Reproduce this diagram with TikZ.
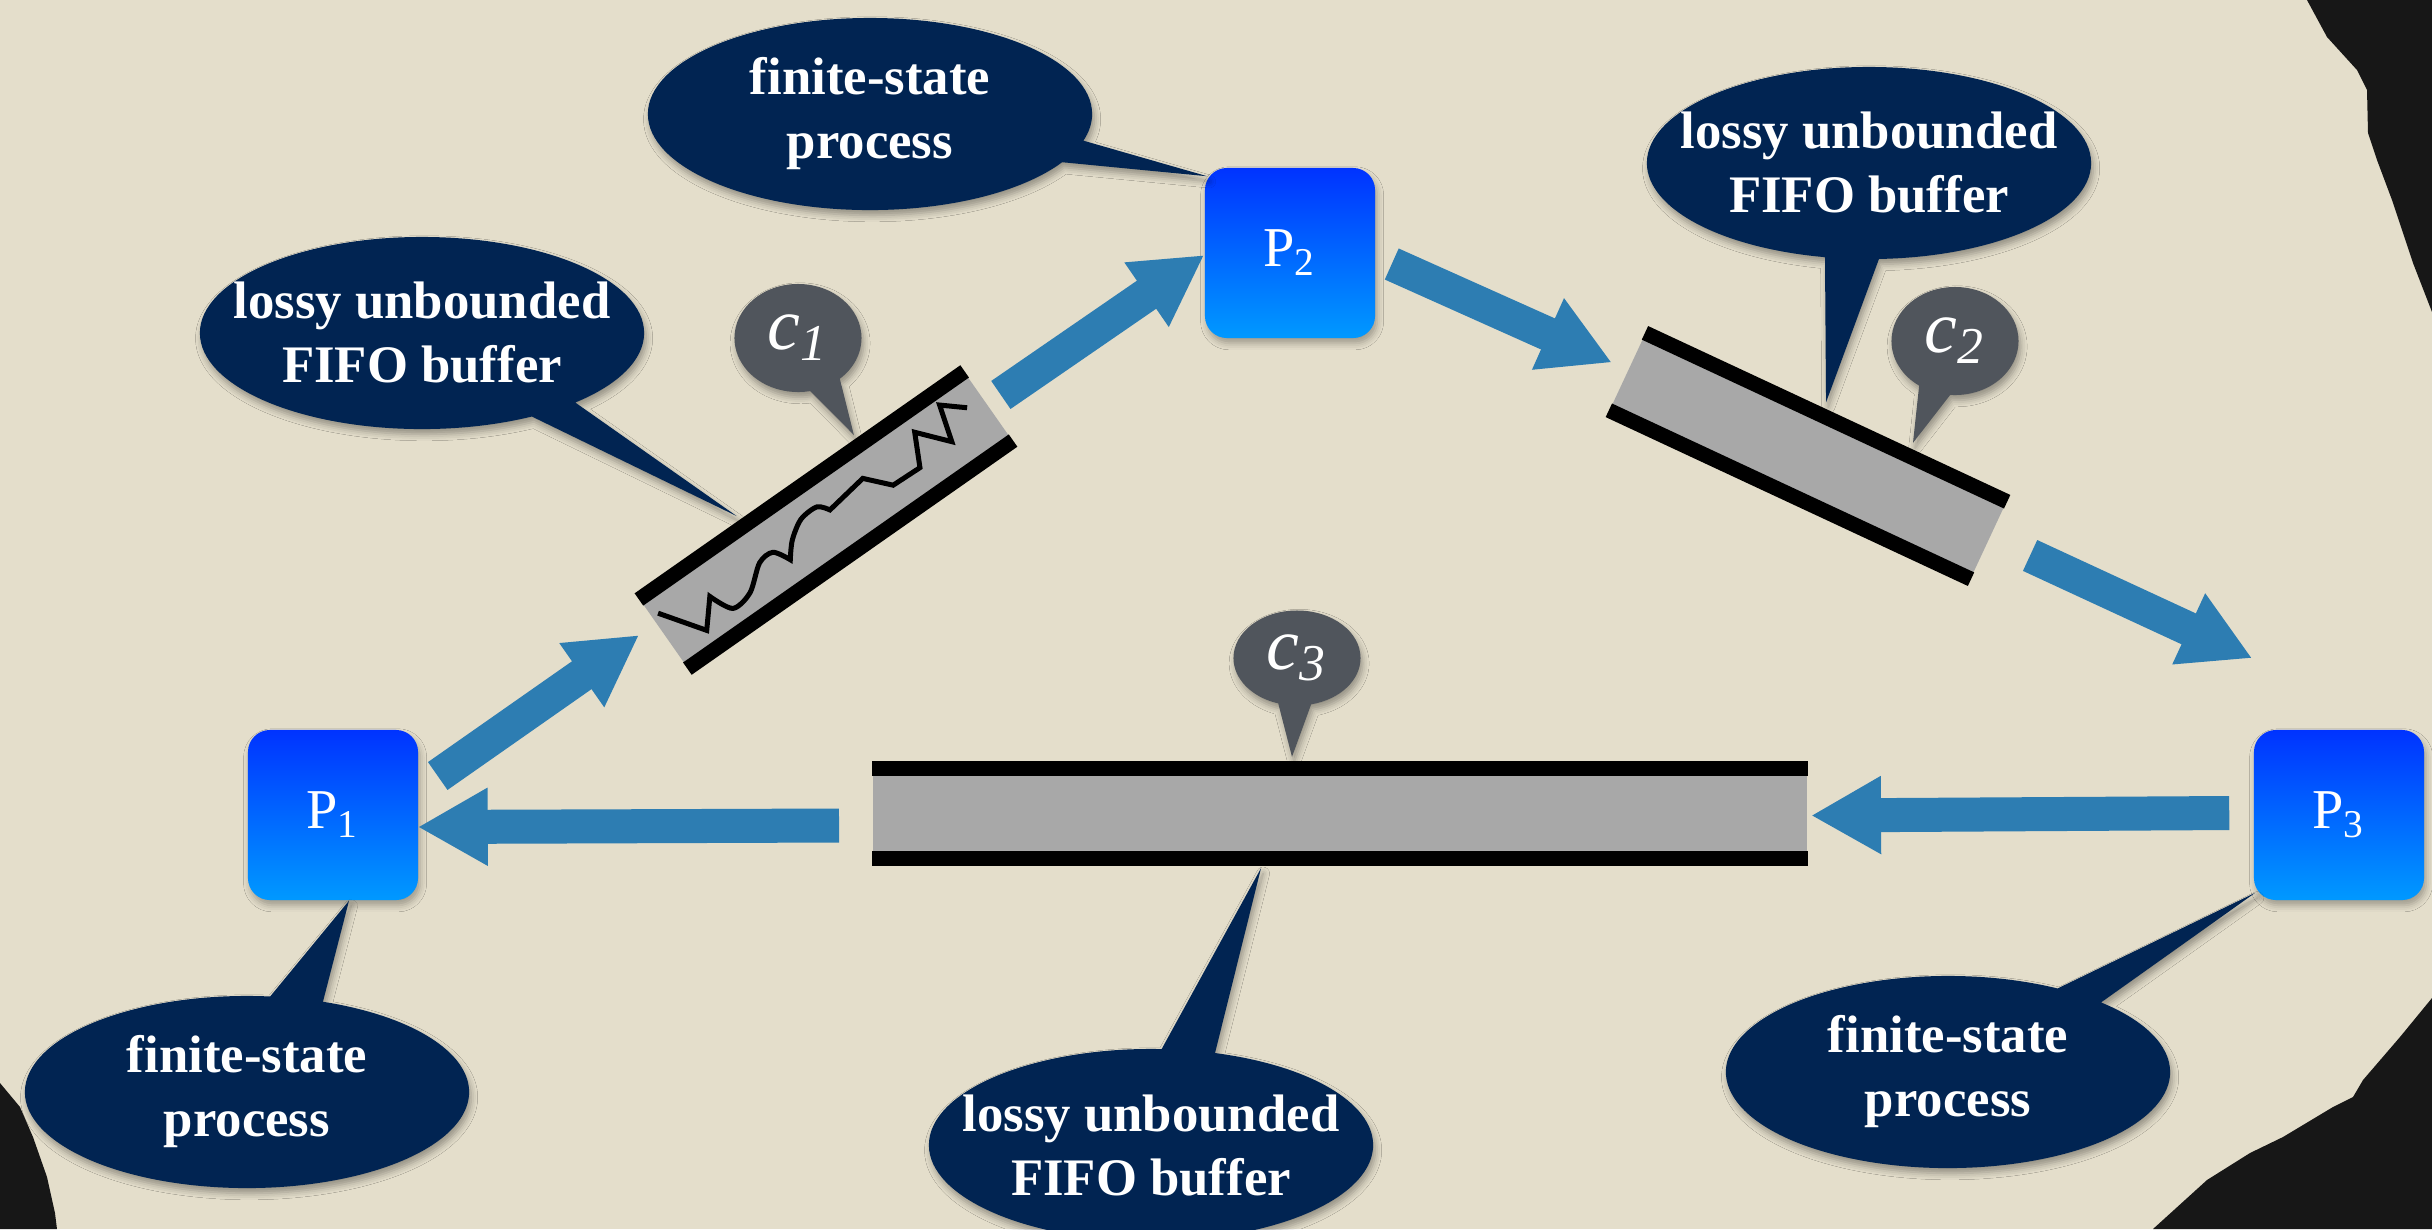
\documentclass[tikz,border=0pt]{standalone}
\usepackage{fontspec}
\setmainfont{Liberation Serif}
\usetikzlibrary{arrows.meta,calc,positioning,shapes.callouts,shadows.blur}

\definecolor{paper}{RGB}{228,222,203}
\definecolor{torn}{RGB}{23,23,23}
\definecolor{navy}{RGB}{1,36,82}
\definecolor{slate}{RGB}{80,85,92}
\definecolor{flowblue}{RGB}{45,125,178}
\definecolor{boxtop}{RGB}{0,51,255}
\definecolor{boxbot}{RGB}{0,153,255}
\definecolor{bufgray}{RGB}{168,168,168}

\tikzset{
  proc/.style={rectangle, rounded corners=0.22cm, minimum width=1.7cm, minimum height=1.7cm,
    top color=boxtop, bottom color=boxbot, text=white, font=\fontsize{16}{19}\selectfont,
    blur shadow={shadow xshift=0.6pt, shadow yshift=-1.5pt, shadow opacity=30}},
  buffer/.style={rectangle, fill=bufgray, minimum height=#1, inner sep=0pt},
  rail/.style={line width=0.15cm, black},
  flow/.style={line width=0.34cm, flowblue, -{Triangle[width=0.73cm,length=0.70cm]}},
  remark/.style={ellipse callout, fill=navy, text=white, align=center,
    minimum width=4.44cm, minimum height=1.92cm, inner xsep=-0.4cm, inner ysep=0pt,
    callout pointer arc=14, font=\bfseries\fontsize{15}{18.2}\selectfont,
    blur shadow={shadow xshift=0.6pt, shadow yshift=-1.5pt, shadow opacity=35}},
  chantag/.style={ellipse callout, fill=slate, text=white, minimum width=1.27cm,
    minimum height=1.08cm, inner sep=0pt, callout pointer arc=30,
    font=\itshape\fontsize{21}{21}\selectfont,
    blur shadow={shadow xshift=0.6pt, shadow yshift=-1.5pt, shadow opacity=35}}
}

\begin{document}
\begin{tikzpicture}[x=0.01cm, y=-0.01cm]
\useasboundingbox (0,0) rectangle (2432,1229);
\fill[paper] (0,0) rectangle (2432,1229);

% torn paper edges
\fill[torn] (2307,0) -- (2327,37) -- (2357,70) -- (2367,90) -- (2368,133) -- (2377,160)
  -- (2392,200) -- (2413,263) -- (2432,312) -- (2432,0) -- cycle;
\fill[torn] (2432,998) -- (2400,1037) -- (2363,1080) -- (2353,1097) -- (2333,1107)
  -- (2283,1137) -- (2250,1153) -- (2207,1180) -- (2153,1229) -- (2432,1229) -- cycle;
\fill[torn] (0,1083) -- (20,1107) -- (33,1137) -- (47,1177) -- (55,1213) -- (57,1229)
  -- (0,1229) -- cycle;

% channels
\node[buffer=0.83cm, minimum width=3.96cm, rotate=35] (c1) at (826,520) {};
\node[buffer=0.84cm, minimum width=3.98cm, rotate=-25] (c2) at (1808,456) {};
\node[buffer=0.88cm, minimum width=9.34cm] (c3) at (1340,813.5) {};
\foreach \b in {c1,c2,c3}{
  \draw[rail] (\b.north west) -- (\b.north east);
  \draw[rail] (\b.south west) -- (\b.south east);
}

% lost messages
\begin{scope}[shift={(c1.center)}, rotate=35, y=0.01cm]
  \draw[line width=0.05cm] (-191,20) -- (-161,-22) -- (-139,4)
    -- plot[smooth] coordinates {(-139,4) (-127,-19) (-104,-16) (-79,3) (-62,4) (-52,-12)}
    -- plot[smooth] coordinates {(-52,-12) (-39,3) (-20,15) (0,16) (9,6)}
    -- (54,13) -- (75,-10) -- (107,-11) -- (123,21) -- (148,-8) -- (159,29) -- (180,11);
\end{scope}

% processes
\node[proc] (P1) at (333,815) {P\textsubscript{1}};
\node[proc] (P2) at (1290,253) {P\textsubscript{2}};
\node[proc] (P3) at (2339,815) {P\textsubscript{3}};

% message flow
\draw[flow] ([shift={(19,-39)}]P1.east) -- ([shift={(-24,1)}]c1.west);
\draw[flow] ([shift={(12,-11)}]c1.east) -- ([shift={(0,2)}]P2.west);
\draw[flow] ([shift={(16,11)}]P2.east) -- ([shift={(-15,-9)}]c2.west);
\draw[flow] ([shift={(41,15)}]c2.east) -- ([shift={(-1,-71)}]P3.north west);
\draw[flow] ([shift={(-24,-2)}]P3.west) -- ([shift={(3,2)}]c3.east);
\draw[flow] ([shift={(-33,12)}]c3.west) -- ([shift={(-1,12)}]P1.east);

% channel names
\node[chantag, callout absolute pointer={($(c1.north west)!0.66!(c1.north east)+(0,-14)$)}] (t1) at (798,338) {c\textsubscript{1}};
\node[chantag, callout absolute pointer={($(c2.north west)!0.74!(c2.north east)+(0,-15)$)}] (t2) at (1955,341) {c\textsubscript{2}};
\node[chantag, minimum height=0.95cm, callout absolute pointer={([shift={(-48,-12)}]c3.north)}] (t3) at (1297,658) {c\textsubscript{3}};

% explanations
\node[remark, callout absolute pointer={($(c1.north west)!0.3!(c1.north east)+(0,-15)$)}] (nA) at (422,333) {lossy unbounded\\FIFO buffer};
\node[remark, callout absolute pointer={([shift={(3,9)}]P2.north west)}] (nB) at (870,114) {finite-state\\process};
\node[remark, callout absolute pointer={([shift={(0,-15)}]c2.north)}] (nC) at (1869,163) {lossy unbounded\\FIFO buffer};
\node[remark, callout absolute pointer={([shift={(16,0)}]P1.south)}] (nD) at (247,1092) {finite-state\\process};
\node[remark, callout absolute pointer={([shift={(-79,10)}]c3.south)}] (nE) at (1151,1145) {lossy unbounded\\FIFO buffer};
\node[remark, callout absolute pointer={([shift={(2,-8)}]P3.south west)}] (nF) at (1948,1072) {finite-state\\process};
\end{tikzpicture}
\end{document}
